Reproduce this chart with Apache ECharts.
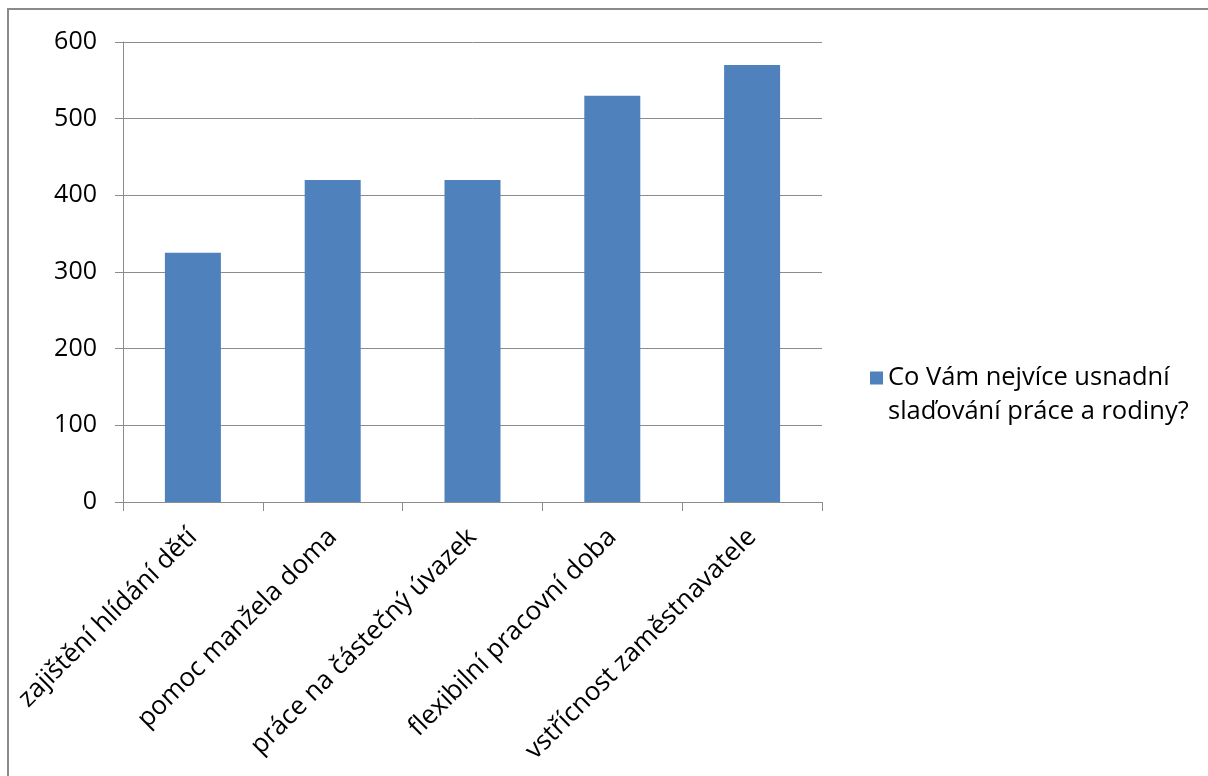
<!DOCTYPE html>
<html>
<head>
<meta charset="utf-8">
<script src="https://cdn.jsdelivr.net/npm/echarts@6/dist/echarts.min.js"></script>
<style>
html,body{margin:0;padding:0;background:#fff;}
#c{position:absolute;left:0;top:0;width:1208px;height:776px;}
#frame{position:absolute;left:7px;top:8px;width:1300px;height:900px;border-top:2px solid #8a8a8a;border-left:2px solid #8a8a8a;pointer-events:none;}
</style>
</head>
<body>
<div id="c"></div>
<div id="frame"></div>
<script>
const categories = ['zajištění hlídání dětí', 'pomoc manžela doma', 'práce na částečný úvazek', 'flexibilní pracovní doba', 'vstřícnost zaměstnavatele'];
const seriesName = 'Co Vám nejvíce usnadní\nslaďování práce a rodiny?';
const values = [325, 420, 420, 530, 570];

const font = '"Open Sans", sans-serif';
const chart = echarts.init(document.getElementById('c'), null, {renderer: 'canvas'});
chart.setOption({
  animation: false,
  backgroundColor: '#fff',
  textStyle: {fontFamily: font},
  grid: {left: 123, right: 386, top: 42, bottom: 274, containLabel: false},
  legend: {
    left: 865, top: 322,
    orient: 'vertical',
    itemWidth: 13, itemHeight: 13, itemGap: 0,
    icon: 'rect',
    data: [{name: seriesName}],
    formatter: function (name) { return '\n' + name; },
    textStyle: {fontFamily: font, fontSize: 25.5, color: '#000', lineHeight: 34}
  },
  xAxis: {
    type: 'category',
    data: categories,
    axisLine: {lineStyle: {color: '#8c8c8c', width: 1}},
    axisTick: {show: true, length: 9, lineStyle: {color: '#8c8c8c'}},
    axisLabel: {rotate: 45, fontSize: 26, color: '#000', margin: 31, fontFamily: font, interval: 0}
  },
  yAxis: {
    type: 'value',
    min: 0, max: 600, interval: 100,
    axisLine: {show: true, lineStyle: {color: '#8c8c8c', width: 1}},
    axisTick: {show: true, length: 8, lineStyle: {color: '#8c8c8c'}},
    splitLine: {lineStyle: {color: '#8c8c8c', width: 1}},
    axisLabel: {fontSize: 25, color: '#000', margin: 26, fontFamily: font}
  },
  series: [{
    name: seriesName,
    type: 'bar',
    data: values,
    barWidth: 56,
    itemStyle: {color: '#4f81bd'}
  }]
});
</script>
</body>
</html>
